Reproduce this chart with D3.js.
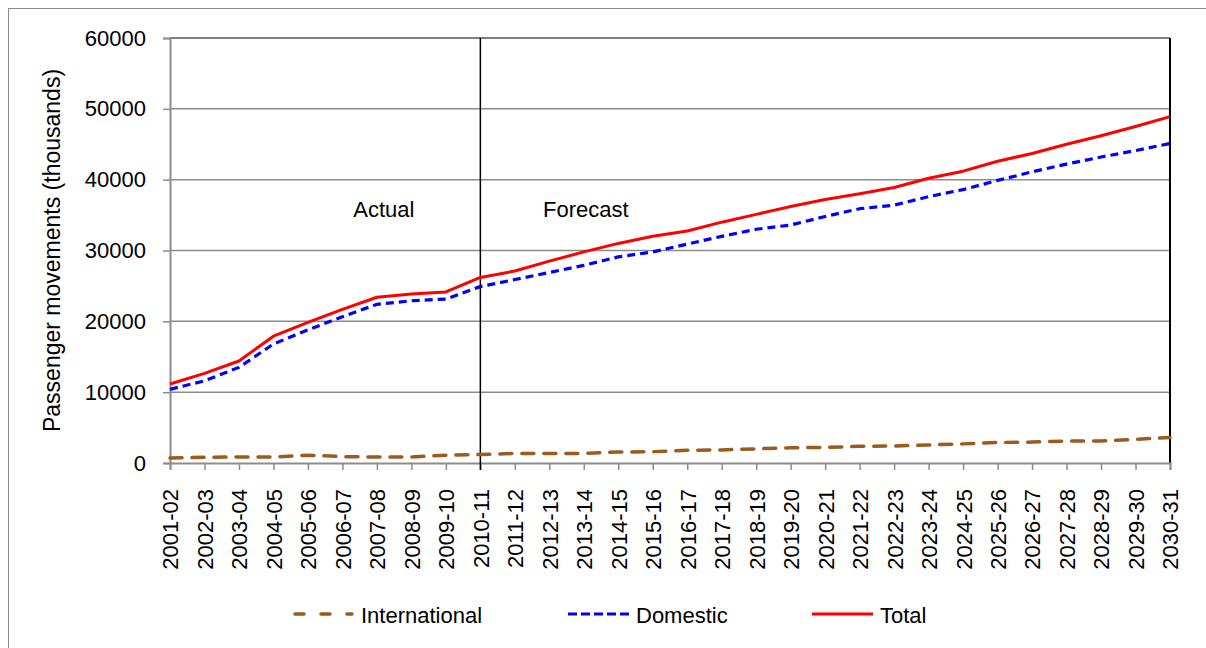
<!DOCTYPE html>
<html><head><meta charset="utf-8">
<script src="https://cdn.jsdelivr.net/npm/d3@7"></script>
<style>
html,body{margin:0;padding:0;background:#fff;}
text{font-family:"Liberation Sans",Arial,sans-serif;fill:#000;}
</style></head>
<body>
<svg id="c" width="1206" height="648"></svg>
<script>
const categories = ["2001-02","2002-03","2003-04","2004-05","2005-06","2006-07","2007-08","2008-09","2009-10","2010-11","2011-12","2012-13","2013-14","2014-15","2015-16","2016-17","2017-18","2018-19","2019-20","2020-21","2021-22","2022-23","2023-24","2024-25","2025-26","2026-27","2027-28","2028-29","2029-30","2030-31"];
const international = [700,800,850,850,1100,900,850,850,1100,1200,1350,1350,1350,1550,1600,1800,1850,2000,2150,2200,2350,2400,2550,2700,2900,2950,3100,3100,3350,3600];
const domestic = [10400,11600,13500,16800,18800,20650,22400,22900,23150,24900,25900,26900,27900,29100,29800,30900,32000,33000,33600,34800,35900,36400,37600,38600,39900,41100,42200,43200,44100,45100];
const total = [11150,12650,14400,17900,19850,21700,23400,23850,24150,26200,27100,28500,29800,31000,32000,32750,34000,35100,36200,37200,38000,38900,40200,41200,42600,43700,45000,46200,47500,48900];
const yTicks = [0,10000,20000,30000,40000,50000,60000];
const seriesNames = ["International","Domestic","Total"];
const splitCategory = "2010-11";
const periodLabels = [{text:"Actual", at:"2007-08", off:0.2}, {text:"Forecast", at:"2013-14", off:0.06}];

const svg = d3.select("#c");
const L = 170, R = 1170, T = 38, B = 463;

// outer frame (right/bottom edges fall outside the picture)
svg.append("rect").attr("x",8.5).attr("y",8.5).attr("width",1210).attr("height",650)
  .attr("fill","none").attr("stroke","#8c8c8c").attr("stroke-width",1);

const x = d3.scalePoint().domain(categories).range([L,R]);
const y = d3.scaleLinear().domain([0,60000]).range([B,T]);

// gridlines
svg.append("g").selectAll("line").data(yTicks.filter(d=>d>0&&d<60000)).join("line")
  .attr("x1",L).attr("x2",R).attr("y1",d=>y(d)).attr("y2",d=>y(d))
  .attr("stroke","#8c8c8c").attr("stroke-width",1.5);

// plot border top/right
svg.append("line").attr("x1",L).attr("x2",R).attr("y1",T).attr("y2",T).attr("stroke","#000").attr("stroke-width",1.2);
svg.append("line").attr("x1",R).attr("x2",R).attr("y1",T).attr("y2",B).attr("stroke","#000").attr("stroke-width",2);

// y axis
const yAxis = d3.axisLeft(y).tickValues(yTicks).tickSize(7).tickPadding(17).tickFormat(d3.format("d"));
const gy = svg.append("g").attr("transform",`translate(${L},0)`).call(yAxis);
gy.select(".domain").attr("stroke","#8c8c8c").attr("stroke-width",2);
gy.selectAll(".tick line").attr("stroke","#8c8c8c").attr("stroke-width",1.5);
gy.selectAll(".tick text").style("font-size","22px").attr("font-family",null);

// x axis
const xAxis = d3.axisBottom(x).tickSize(7).tickPadding(0);
const gx = svg.append("g").attr("transform",`translate(0,${B})`).call(xAxis);
gx.select(".domain").attr("stroke","#8c8c8c").attr("stroke-width",2);
gx.selectAll(".tick line").attr("stroke","#8c8c8c").attr("stroke-width",1.5);
gx.selectAll(".tick text").style("font-size","22px").attr("font-family",null)
  .attr("text-anchor","end").attr("transform","rotate(-90)")
  .attr("x",-26).attr("y",0).attr("dy","0.36em");

// y title
svg.append("text").attr("transform",`translate(60,${(T+B)/2}) rotate(-90)`)
  .attr("text-anchor","middle").style("font-size","23px").text("Passenger movements (thousands)");

// split line
svg.append("line").attr("x1",x(splitCategory)).attr("x2",x(splitCategory)).attr("y1",T).attr("y2",B+7)
  .attr("stroke","#000").attr("stroke-width",1.5);

// period labels
periodLabels.forEach(p=>{
  svg.append("text").attr("x",x(p.at)+p.off*x.step()).attr("y",217).attr("text-anchor","middle")
    .style("font-size","22px").text(p.text);
});

const styles = {
  International:{color:"#9c5a1c", dash:"12,10", width:3.5, cap:"round"},
  Domestic:{color:"#0000ff", dash:"8,5", width:3.2, cap:"butt"},
  Total:{color:"#ff0000", dash:null, width:3, cap:"butt"}
};
const dataMap = {International:international, Domestic:domestic, Total:total};
const line = d3.line().x((d,i)=>x(categories[i])).y(d=>y(d));

seriesNames.forEach(n=>{
  const s = styles[n];
  svg.append("path").datum(dataMap[n]).attr("d",line).attr("fill","none")
    .attr("stroke",s.color).attr("stroke-width",s.width).attr("stroke-linecap",s.cap)
    .attr("stroke-linejoin","round").attr("stroke-dasharray",s.dash);
});

// legend
const legX = [293, 568, 812];
const lg = svg.append("g");
seriesNames.forEach((n,i)=>{
  const s = styles[n];
  lg.append("line").attr("x1",legX[i]+ (n==="International"?2:0)).attr("x2",legX[i]+(n==="International"?59:61)).attr("y1",614).attr("y2",614)
    .attr("stroke",s.color).attr("stroke-width",s.width).attr("stroke-linecap",s.cap)
    .attr("stroke-dasharray", n==="International" ? "9,17" : (n==="Domestic" ? "9,4" : null));
  lg.append("text").attr("x",legX[i]+68).attr("y",623)
    .style("font-size","22px").text(n);
});
</script>
</body></html>
